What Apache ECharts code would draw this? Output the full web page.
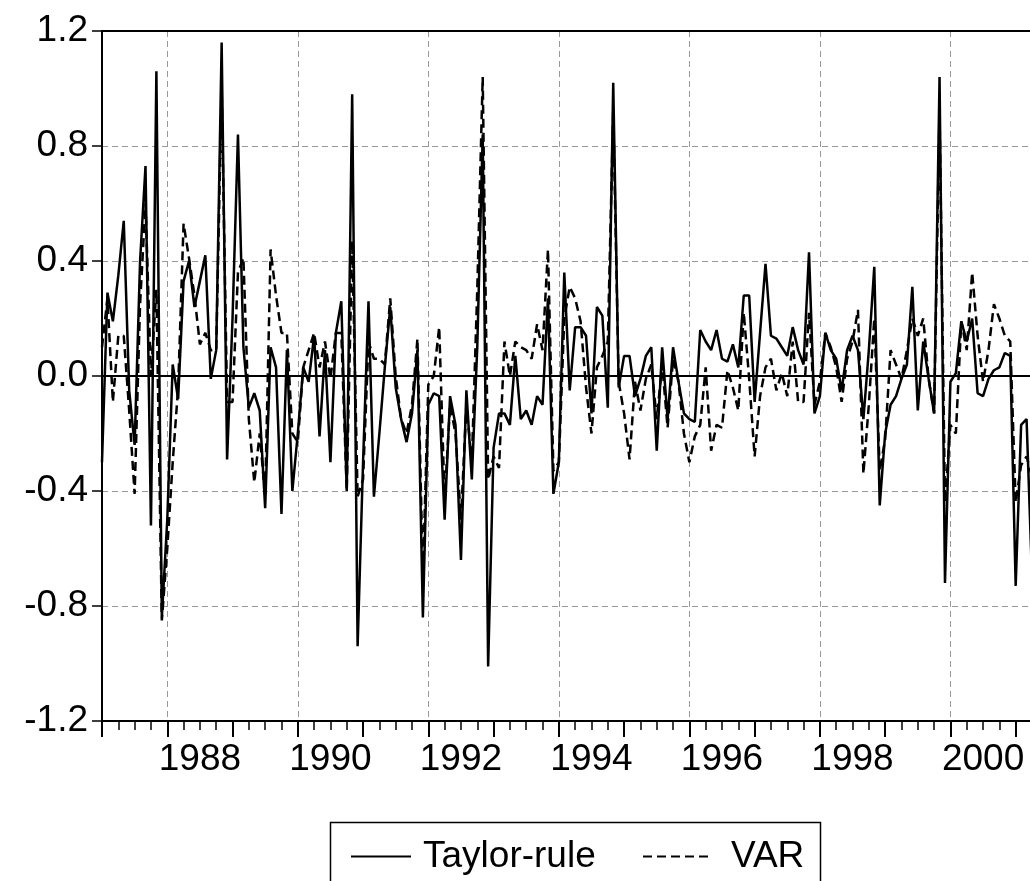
<!DOCTYPE html>
<html><head><meta charset="utf-8">
<script src="https://cdn.jsdelivr.net/npm/echarts/dist/echarts.min.js"></script>
<style>html,body{margin:0;padding:0;background:#fff}#c{width:1030px;height:881px}</style>
</head><body><div id="c"></div><script>
// Monthly categories, 1987m1 onwards
const startYear = 1987;
const nObs = 172;
const months = [];
for (let i = 0; i < nObs; i++) {
  const y = startYear + Math.floor(i / 12), m = (i % 12) + 1;
  months.push(y + '-' + String(m).padStart(2, '0'));
}
const yTickValues = [-1.2, -0.8, -0.4, 0.0, 0.4, 0.8, 1.2];
const seriesNames = ['Taylor-rule', 'VAR'];

const taylorRule = [
 -0.30, 0.29, 0.19, 0.35, 0.54,-0.05,-0.24, 0.40, 0.73,-0.52, 1.06,-0.84,
 -0.50, 0.04,-0.08, 0.33, 0.40, 0.24, 0.33, 0.42,-0.01, 0.09, 1.16,-0.29,
  0.20, 0.84, 0.10,-0.11,-0.06,-0.12,-0.46, 0.10, 0.03,-0.48, 0.09,-0.40,
 -0.20, 0.03,-0.02, 0.14,-0.21, 0.09,-0.30, 0.15, 0.26,-0.40, 0.98,-0.94,
 -0.30, 0.26,-0.42,-0.20, 0.03, 0.24,-0.04,-0.15,-0.23,-0.13, 0.09,-0.84,
 -0.10,-0.06,-0.07,-0.50,-0.07,-0.17,-0.64,-0.05,-0.36, 0.10, 0.84,-1.01,
 -0.25,-0.13,-0.13,-0.17, 0.07,-0.15,-0.12,-0.17,-0.07,-0.10, 0.27,-0.41,
 -0.30, 0.36,-0.05, 0.17, 0.17, 0.14,-0.13, 0.24, 0.21,-0.11, 1.02,-0.04,
  0.07, 0.07,-0.07,-0.01, 0.07, 0.10,-0.26, 0.10,-0.15, 0.10,-0.02,-0.13,
 -0.15,-0.16, 0.16, 0.12, 0.09, 0.16, 0.06, 0.05, 0.11, 0.03, 0.28, 0.28,
 -0.09, 0.15, 0.39, 0.14, 0.13, 0.10, 0.07, 0.17, 0.09, 0.04, 0.43,-0.13,
 -0.07, 0.15, 0.09, 0.06,-0.05, 0.09, 0.14, 0.09,-0.15, 0.09, 0.38,-0.45,
 -0.20,-0.10,-0.07,-0.01, 0.04, 0.31,-0.12, 0.12,-0.01,-0.13, 1.04,-0.72,
 -0.02, 0.01, 0.19, 0.12, 0.20,-0.06,-0.07,-0.01, 0.02, 0.03, 0.08, 0.07,
 -0.73,-0.17,-0.15,-0.70
];
const varModel = [
  0.10, 0.27,-0.09, 0.14, 0.14,-0.12,-0.41, 0.25, 0.60, 0.00, 0.30,-0.85,
 -0.60,-0.30,-0.04, 0.53, 0.41, 0.28, 0.11, 0.15, 0.09, 0.09, 1.00,-0.09,
 -0.09, 0.36, 0.41,-0.15,-0.37,-0.20,-0.42, 0.44, 0.28, 0.15, 0.15,-0.20,
 -0.23, 0.03, 0.09, 0.15, 0.03, 0.12,-0.01, 0.15, 0.15,-0.40, 0.47,-0.42,
 -0.36, 0.12, 0.06, 0.06, 0.04, 0.27, 0.00,-0.15,-0.20,-0.10, 0.13,-0.70,
 -0.03, 0.00, 0.17,-0.43,-0.10,-0.20,-0.50,-0.10,-0.30, 0.30, 1.04,-0.36,
 -0.28,-0.32, 0.12, 0.00, 0.12, 0.10, 0.09, 0.06, 0.18, 0.09, 0.44,-0.33,
 -0.30, 0.20, 0.31, 0.27, 0.19,-0.04,-0.20, 0.03, 0.07, 0.12, 0.92,-0.02,
 -0.13,-0.29,-0.02,-0.12,-0.01, 0.04,-0.15, 0.04,-0.18, 0.06,-0.02,-0.20,
 -0.30,-0.21,-0.17, 0.03,-0.26,-0.17,-0.18, 0.02,-0.04,-0.12, 0.22,-0.01,
 -0.28,-0.07, 0.03, 0.06,-0.05, 0.01,-0.07, 0.12,-0.09,-0.09, 0.22,-0.10,
 -0.02, 0.15, 0.10, 0.03,-0.09, 0.06, 0.12, 0.23,-0.34,-0.10, 0.20,-0.33,
 -0.22, 0.09, 0.04,-0.01, 0.09, 0.20, 0.14, 0.20,-0.01,-0.13, 0.92,-0.44,
 -0.17,-0.20, 0.19, 0.09, 0.36, 0.14,-0.02, 0.09, 0.25, 0.20, 0.14, 0.12,
 -0.44,-0.31,-0.28,-0.35
];

const FONT = "'Liberation Sans', Arial, sans-serif";
const FS = 37;
const isYearStart = (i) => i % 12 === 0;                 // long ticks each January
const isGridYear = (i) => i >= 12 && (i - 12) % 24 === 0; // gridlines at even years
const isLabelPos = (i) => i >= 18 && (i - 18) % 24 === 0; // label centred mid-year

const chart = echarts.init(document.getElementById('c'), null, {renderer: 'canvas'});
chart.setOption({
  animation: false,
  backgroundColor: '#fff',
  textStyle: {fontFamily: FONT},
  grid: {left: 102, right: -2, top: 31, bottom: 160, outerBoundsMode: 'none', containLabel: false},
  xAxis: [
    {
      type: 'category', data: months, boundaryGap: false,
      axisLine: {show: true, onZero: false, lineStyle: {color: '#000', width: 2}},
      axisTick: {show: true, interval: (i) => i % 3 === 0, length: 9, lineStyle: {color: '#000', width: 1.5}},
      axisLabel: {interval: (i) => isLabelPos(i), formatter: (v) => v.slice(0, 4),
                  fontSize: FS, color: '#000', fontFamily: FONT, margin: 20},
      splitLine: {show: true, interval: (i) => isGridYear(i),
                  lineStyle: {color: '#999', type: [6, 4], width: 1}}
    },
    {
      type: 'category', data: months, boundaryGap: false, position: 'bottom',
      axisLine: {show: false, onZero: false},
      axisTick: {show: true, interval: (i) => isYearStart(i), length: 16, lineStyle: {color: '#000', width: 2}},
      axisLabel: {show: false}, splitLine: {show: false}
    },
    {
      type: 'category', data: months, boundaryGap: false, position: 'top',
      axisLine: {show: true, onZero: false, lineStyle: {color: '#000', width: 2}},
      axisTick: {show: false}, axisLabel: {show: false}, splitLine: {show: false}
    }
  ],
  yAxis: {
    type: 'value', min: yTickValues[0], max: yTickValues[yTickValues.length - 1], interval: 0.4,
    axisLine: {show: true, onZero: false, lineStyle: {color: '#000', width: 2}},
    axisTick: {show: true, length: 10, lineStyle: {color: '#000', width: 1.5}},
    axisLabel: {formatter: (v) => v.toFixed(1), fontSize: FS, color: '#000', fontFamily: FONT, margin: 14},
    splitLine: {show: true, lineStyle: {color: '#999', type: [6, 4], width: 1}}
  },
  legend: [
    {data: [seriesNames[0]], left: 345, top: 833, itemWidth: 60, itemHeight: 14, itemGap: 0,
     itemStyle: {opacity: 0},
     textStyle: {fontSize: FS, color: '#000', fontFamily: FONT, padding: [0, 0, 0, 7]}},
    {data: [seriesNames[1]], left: 637, top: 833, itemWidth: 66, itemHeight: 14, itemGap: 0,
     itemStyle: {opacity: 0},
     textStyle: {fontSize: FS, color: '#000', fontFamily: FONT, padding: [0, 0, 0, 17]}}
  ],
  graphic: [
    {type: 'rect', left: 328, top: 820, silent: true,
     shape: {x: 0, y: 0, width: 490, height: 80},
     style: {fill: 'none', stroke: '#000', lineWidth: 1.5}}
  ],
  series: [
    {
      name: seriesNames[0], type: 'line', data: taylorRule, symbol: 'none', showSymbol: false,
      lineStyle: {color: '#000', width: 2.5, type: 'solid'}, itemStyle: {color: '#000'}, z: 3,
      markLine: {silent: true, symbol: 'none', label: {show: false},
                 lineStyle: {color: '#000', type: 'solid', width: 2},
                 data: [{yAxis: 0}]}
    },
    {
      name: seriesNames[1], type: 'line', data: varModel, symbol: 'none', showSymbol: false,
      lineStyle: {color: '#000', width: 2.5, type: [9, 5]}, itemStyle: {color: '#000'}, z: 2
    }
  ]
});
</script></body></html>
